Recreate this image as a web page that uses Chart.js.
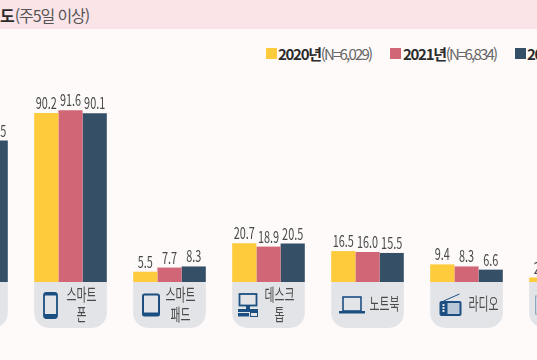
<!DOCTYPE html>
<html lang="ko">
<head>
<meta charset="utf-8">
<title>주5일 이상 이용 빈도</title>
<script src="https://cdn.jsdelivr.net/npm/chart.js@4/dist/chart.umd.min.js"></script>
<style>
    html, body { margin: 0; padding: 0; }
    body { width: 537px; height: 360px; overflow: hidden; position: relative; background: #fefafa;
        font-family: "Noto Sans CJK KR", sans-serif; color: #444; }
    #band { position: absolute; left: 0; top: 0; width: 537px; height: 29px; background: #fbe4e8; }
    #title { position: absolute; left: 0; top: 3px; font-size: 16px; line-height: 24px; white-space: nowrap; color: #555; }
    #title b { color: #2b2b2b; }
    #title span { letter-spacing: -1.1px; }
    .key { position: absolute; top: 44px; font-size: 15px; line-height: 19px; white-space: nowrap; letter-spacing: -1.8px; color: #666; }
    .key b { color: #2b2b2b; letter-spacing: -1.3px; }
    .swatch { position: absolute; top: 48px; width: 11px; height: 11px; }
    #wrap { position: absolute; left: -78px; top: 0; width: 693px; height: 360px; }
</style>
</head>
<body>
<div id="band"></div>
<div id="title"><b>도</b><span>(주5일 이상)</span></div>
<div class="swatch" style="left:266px;background:#fdcb3c"></div>
<div class="key" style="left:278px"><b>2020년</b>(N=6,029)</div>
<div class="swatch" style="left:390px;background:#d06676"></div>
<div class="key" style="left:403px"><b>2021년</b>(N=6,834)</div>
<div class="swatch" style="left:515px;background:#344f66"></div>
<div class="key" style="left:527px"><b>2022년</b></div>
<div id="wrap"><canvas id="chart" width="693" height="360"></canvas></div>
<script>
const categories = ['TV', '스마트폰', '스마트패드', '데스크톱', '노트북', '라디오', '기타'];
const labelLines = [['TV'], ['스마트', '폰'], ['스마트', '패드'], ['데스크', '톱'], ['노트북'], ['라디오'], ['기타']];
const values2020 = [76.0, 90.2, 5.5, 20.7, 16.5, 9.4, 2.4];
const values2021 = [75.4, 91.6, 7.7, 18.9, 16.0, 8.3, 2.0];
const values2022 = [75.5, 90.1, 8.3, 20.5, 15.5, 6.6, 1.8];

const yellow = '#fdcb3c';
const red = '#d06676';
const navy = '#344f66';
const iconBlue = '#1b4f82';

function roundedTile(ctx, x, y, w, h, r) {
    ctx.beginPath();
    ctx.moveTo(x, y);
    ctx.lineTo(x + w, y);
    ctx.lineTo(x + w, y + h - r);
    ctx.arcTo(x + w, y + h, x + w - r, y + h, r);
    ctx.lineTo(x + r, y + h);
    ctx.arcTo(x, y + h, x, y + h - r, r);
    ctx.closePath();
    ctx.fill();
}

// the source uses a narrow face, so squeeze the text sideways
function narrowText(ctx, text, x, y, squeeze) {
    ctx.save();
    ctx.translate(x, y);
    ctx.scale(squeeze, 1);
    ctx.fillText(text, 0, 0);
    ctx.restore();
}

// x, y is the middle of the icon
const icons = {
    1(ctx, x, y) { // phone
        ctx.lineWidth = 1.8;
        ctx.beginPath(); ctx.roundRect(x - 6.5, y - 12, 13, 25, 2.5); ctx.stroke();
        ctx.fillRect(x - 6.5, y + 9, 13, 4);
        ctx.fillRect(x - 6.5, y - 12, 13, 2.5);
    },
    2(ctx, x, y) { // tablet
        ctx.lineWidth = 2;
        ctx.beginPath(); ctx.roundRect(x - 8, y - 10.5, 16, 21, 1.5); ctx.stroke();
        ctx.fillRect(x - 8, y + 7.5, 16, 3.5);
    },
    3(ctx, x, y) { // desktop
        ctx.lineWidth = 1.8;
        ctx.strokeRect(x - 8.5, y - 11, 17, 11.5);
        ctx.fillRect(x - 2, y + 1, 4, 3);
        ctx.fillRect(x - 10, y + 4, 20, 3);
        ctx.fillRect(x - 10, y + 8, 11, 3.5);
        ctx.lineWidth = 1;
        ctx.strokeRect(x + 2.5, y + 7.5, 7, 4);
    },
    4(ctx, x, y) { // laptop
        ctx.lineWidth = 1.6;
        ctx.strokeRect(x - 9, y - 8, 18, 14);
        ctx.fillRect(x - 13, y + 6, 26, 2.5);
    },
    5(ctx, x, y) { // radio
        ctx.lineWidth = 1;
        ctx.beginPath(); ctx.moveTo(x - 7, y - 4); ctx.lineTo(x + 9, y - 11); ctx.stroke();
        ctx.beginPath(); ctx.roundRect(x - 11, y - 4, 22, 15, 2); ctx.fill();
        ctx.fillStyle = '#b9c8d8';
        ctx.fillRect(x - 3, y - 2, 12, 11);
        ctx.fillStyle = '#e3e4e8';
        ctx.fillRect(x - 8, y - 1, 2, 2);
        ctx.fillRect(x - 8, y + 2, 2, 2);
        ctx.fillRect(x - 8, y + 5, 2, 2);
    },
    6(ctx, x, y) { // other
        ctx.lineWidth = 1;
        ctx.fillStyle = '#cdd8e3';
        ctx.strokeStyle = '#8fa6bb';
        ctx.fillRect(x - 8, y - 9, 16, 18);
        ctx.strokeRect(x - 8, y - 9, 16, 18);
    }
};
const iconShift = [-20, -20, -18.5, -20.5, -15.5, -16, -22];

const tilesAndLabels = {
    id: 'tilesAndLabels',
    afterDatasetsDraw(chart) {
        const { ctx, scales: { x, y } } = chart;
        const base = y.getPixelForValue(0);
        ctx.save();
        // rounded tile under each group, icon and label inside it
        categories.forEach((name, i) => {
            const c = x.getPixelForValue(i);
            ctx.fillStyle = '#e3e4e8';
            roundedTile(ctx, c - 36.3, base, 72.6, 46, 15);
            ctx.fillStyle = iconBlue;
            ctx.strokeStyle = iconBlue;
            if (icons[i]) {
                ctx.save();
                icons[i](ctx, c + iconShift[i], base + 23);
                ctx.restore();
            }
            ctx.fillStyle = '#4a4a4a';
            ctx.font = '17px "Noto Sans CJK KR"';
            ctx.textAlign = 'center';
            ctx.textBaseline = 'middle';
            const lines = labelLines[i];
            if (lines.length > 1) {
                narrowText(ctx, lines[0], c + 11, base + 13, 0.64);
                narrowText(ctx, lines[1], c + 11, base + 33, 0.64);
            } else {
                narrowText(ctx, lines[0], c + 17, base + 22, 0.64);
            }
        });
        // value labels above each bar
        ctx.fillStyle = '#4a4a4a';
        ctx.font = '16px "Noto Sans CJK KR"';
        ctx.textBaseline = 'alphabetic';
        chart.data.datasets.forEach((set, d) => {
            chart.getDatasetMeta(d).data.forEach((bar, i) => {
                narrowText(ctx, set.data[i].toFixed(1), bar.x, bar.y - 4, 0.68);
            });
        });
        ctx.restore();
    }
};

new Chart(document.getElementById('chart').getContext('2d'), {
    type: 'bar',
    data: {
        labels: categories,
        datasets: [
            { label: '2020년', data: values2020, backgroundColor: yellow },
            { label: '2021년', data: values2021, backgroundColor: red },
            { label: '2022년', data: values2022, backgroundColor: navy }
        ]
    },
    options: {
        responsive: false,
        animation: false,
        layout: { padding: { bottom: 78 } },
        datasets: { bar: { categoryPercentage: 72.6 / 99, barPercentage: 1 } },
        plugins: { legend: { display: false }, tooltip: { enabled: false } },
        scales: {
            x: { display: false },
            y: { display: false, min: 0, max: 150.5 }
        }
    },
    plugins: [tilesAndLabels]
});
</script>
</body>
</html>
